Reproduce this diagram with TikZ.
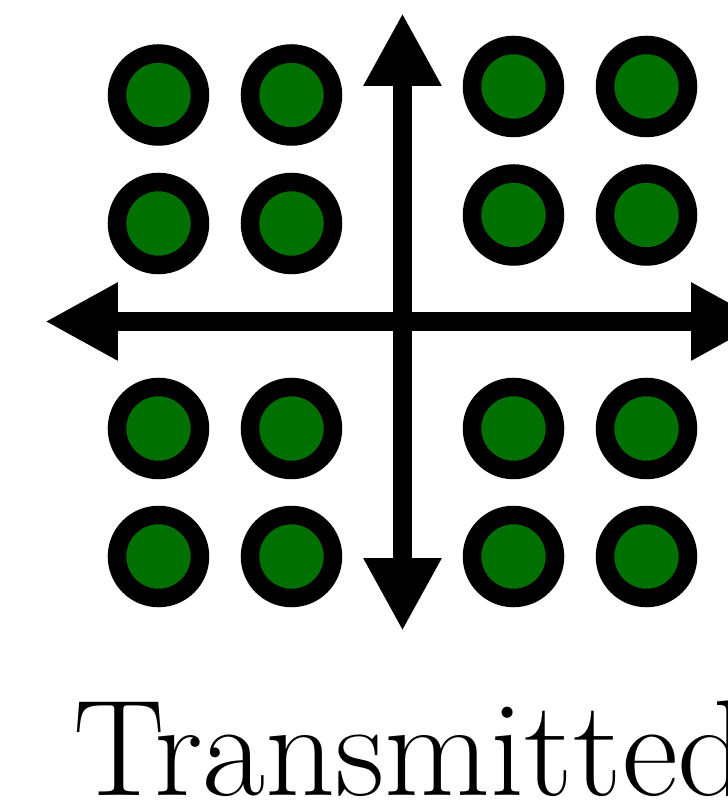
\documentclass[tikz,border=0pt]{standalone}
\usepackage{fontspec}
\usepackage{xcolor}
\usetikzlibrary{arrows.meta}
\definecolor{qamgreen}{RGB}{0,112,0}

\begin{document}
\begin{tikzpicture}[>={Triangle[length=7.3mm,width=7.3mm]},
  sym/.style={circle,draw=black,fill=qamgreen,line width=1.85mm,minimum size=8.3mm,inner sep=0pt}]
\useasboundingbox(-4.025,3.215)rectangle(3.255,-4.815);
\draw[<->,line width=1.85mm](-3.575,0)--(3.615,0);
\draw[<->,line width=1.85mm](0,-3.095)--(0,3.085);
% upper left quadrant sits a little lower
\foreach \x[count=\i] in {-2.44,-1.11}
  \foreach \y[count=\j] in {2.265,0.98}
    \node[sym](ul\i\j) at (\x,\y){};
\foreach \x[count=\i] in {1.11,2.44}
  \foreach \y[count=\j] in {2.35,1.065}
    \node[sym](ur\i\j) at (\x,\y){};
\foreach \x[count=\i] in {-2.44,-1.11,1.11,2.44}
  \foreach \y[count=\j] in {-1.07,-2.35}
    \node[sym](lo\i\j) at (\x,\y){};
\node[anchor=base west,inner sep=0pt](label) at (-3.3,-4.742)
  {\fontsize{39}{47}\selectfont Transmitted};
\end{tikzpicture}
\end{document}
